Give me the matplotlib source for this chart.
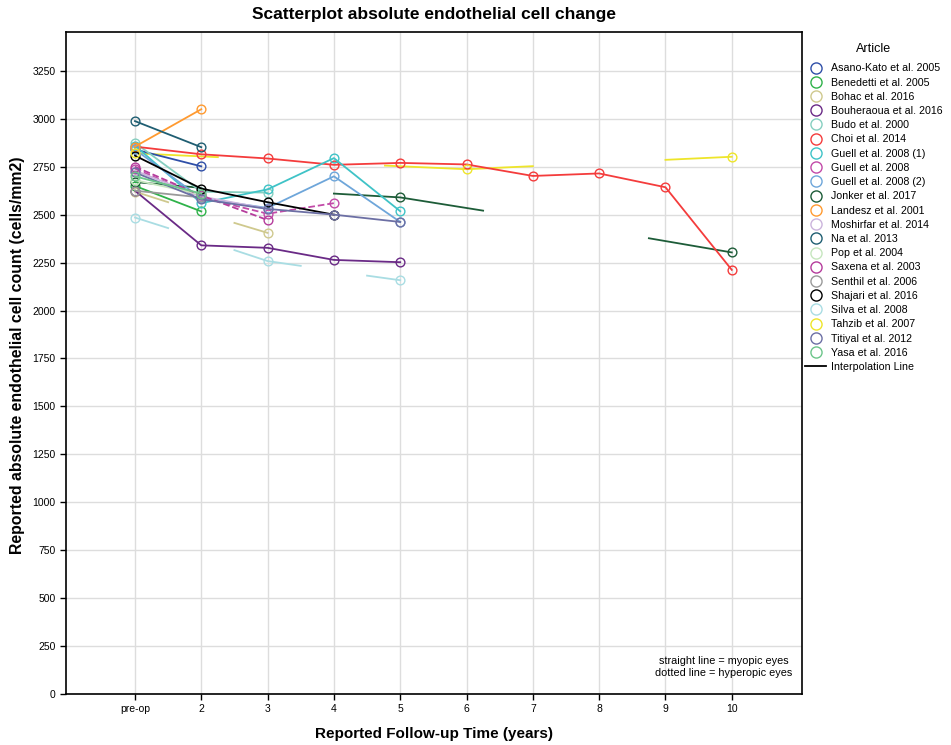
import numpy as np
import matplotlib
matplotlib.use("Agg")
import matplotlib.pyplot as plt
from matplotlib.lines import Line2D

plt.rcParams['font.family'] = ['Liberation Sans', 'DejaVu Sans']

# x categories: pre-op, 2, 3, ... 10 years
x_labels = ["pre-op", "2", "3", "4", "5", "6", "7", "8", "9", "10"]
x_pos = np.arange(1, 11)

articles = ["Asano-Kato et al. 2005", "Benedetti et al. 2005", "Bohac et al. 2016",
            "Bouheraoua et al. 2016", "Budo et al. 2000", "Choi et al. 2014",
            "Guell et al. 2008 (1)", "Guell et al. 2008", "Guell et al. 2008 (2)",
            "Jonker et al. 2017", "Landesz et al. 2001", "Moshirfar et al. 2014",
            "Na et al. 2013", "Pop et al. 2004", "Saxena et al. 2003",
            "Senthil et al. 2006", "Shajari et al. 2016", "Silva et al. 2008",
            "Tahzib et al. 2007", "Titiyal et al. 2012", "Yasa et al. 2016"]
colors = ["#2f4fa8", "#2fb24a", "#cfc98e", "#6a2a86", "#86cfc0", "#f43c3c",
          "#3fc3c7", "#c24aa8", "#6ea6da", "#1d5c38", "#ff9a30", "#cbb4dc",
          "#1f5e72", "#c6e6bf", "#b53c9c", "#9a9a9a", "#000000", "#a9dde3",
          "#eee52a", "#6c6fa4", "#6cc58a"]

N = None
# values per follow-up category (None = not reported)
asano_kato = [2840, 2752]
benedetti = [2650, 2517]
bohac = [2620, N, 2405]
bouheraoua = [2625, 2340, 2327, 2264, 2252]
budo = [2875, 2620, 2615]
choi = [2855, 2815, 2793, 2760, 2770, 2762, 2702, 2715, 2643, 2212]
guell_1 = [2860, 2560, 2632, 2795, 2518]
guell = [2740, 2590, 2505, 2560]
guell_2 = [2840, 2585, 2535, 2700, 2462]
jonker = [2670, N, N, N, 2590, N, N, N, N, 2303]
landesz = [2855, 3050]
moshirfar = [2730, 2595, 2530]
na = [2988, 2852]
pop = [2680, 2605]
saxena = [2750, 2600, 2472]
senthil = [2625, 2590]
shajari = [2808, 2636, 2565, 2500]
silva = [2485, N, 2258, N, 2158]
tahzib = [2820, N, N, N, N, 2737, N, N, N, 2802]
titiyal = [2720, 2580, 2530, 2500, 2462]
yasa = [2700, 2610]

series = [asano_kato, benedetti, bohac, bouheraoua, budo, choi, guell_1, guell,
          guell_2, jonker, landesz, moshirfar, na, pop, saxena, senthil, shajari,
          silva, tahzib, titiyal, yasa]
hyperopic = ["Guell et al. 2008", "Saxena et al. 2003"]
# articles whose points are only joined by partial interpolation pieces
gapped = ["Bohac et al. 2016", "Jonker et al. 2017", "Silva et al. 2008", "Tahzib et al. 2007"]

# interpolation pieces for the gapped articles
bohac_seg_x = [[1, 1.5], [2.5, 3]]
bohac_seg_y = [[2620, 2565], [2457, 2405]]
jonker_seg_x = [[1, 2], [4, 5, 6.25], [8.75, 10]]
jonker_seg_y = [[2670, 2640], [2610, 2590, 2521], [2377, 2303]]
silva_seg_x = [[1, 1.5], [2.5, 3, 3.5], [4.5, 5]]
silva_seg_y = [[2485, 2430], [2315, 2258, 2233], [2182, 2158]]
tahzib_seg_x = [[1, 2.25], [4.77, 6, 7], [9, 10]]
tahzib_seg_y = [[2820, 2800], [2756, 2737, 2753], [2786, 2802]]
segments = {"Bohac et al. 2016": (bohac_seg_x, bohac_seg_y),
            "Jonker et al. 2017": (jonker_seg_x, jonker_seg_y),
            "Silva et al. 2008": (silva_seg_x, silva_seg_y),
            "Tahzib et al. 2007": (tahzib_seg_x, tahzib_seg_y)}

fig = plt.figure(figsize=(9.51, 7.45), dpi=100)
ax = fig.add_axes([0.0694, 0.0685, 0.7740, 0.8886])

handles = []
for name, col, vals in zip(articles, colors, series):
    y = np.array([np.nan if v is None else v for v in vals], dtype=float)
    x = x_pos[:len(y)]
    ls = "--" if name in hyperopic else "-"
    if name in gapped:
        sx, sy = segments[name]
        for a, b in zip(sx, sy):
            ax.plot(a, b, color=col, lw=1.3, zorder=2)
        ax.plot(x, y, ls="none", marker="o", ms=6.3, mfc="none", mec=col, mew=1.0, zorder=3)
    else:
        ax.plot(x, y, color=col, ls=ls, lw=1.3, marker="o", ms=6.3, mfc="none",
                mec=col, mew=1.0, zorder=3)
    handles.append(Line2D([], [], ls="none", marker="o", ms=8, mfc="none", mec=col,
                          mew=1.0, label=name))
handles.append(Line2D([], [], color="black", lw=1.3, label="Interpolation Line"))

ax.set_xlim(-0.04, 11.06)
ax.set_ylim(0, 3453)
ax.set_xticks(x_pos)
ax.set_xticklabels(x_labels)
ax.set_yticks(np.arange(0, 3251, 250))
ax.tick_params(labelsize=7.5, direction="out", length=4, width=1, colors="black")
ax.grid(True, color="#dddddd", lw=1)
ax.set_axisbelow(True)
for s in ax.spines.values():
    s.set_linewidth(1.2)
    s.set_color("black")

ax.set_title("Scatterplot absolute endothelial cell change", fontsize=12.5,
             fontweight="bold", pad=9)
ax.set_xlabel("Reported Follow-up Time (years)", fontsize=11, fontweight="bold", labelpad=9)
ax.set_ylabel("Reported absolute endothelial cell count (cells/mm2)", fontsize=11.4,
              fontweight="bold")
ax.yaxis.set_label_coords(-0.056, 0.511)

ax.text(0.987, 0.024, "straight line = myopic eyes\ndotted line = hyperopic eyes",
        transform=ax.transAxes, ha="right", va="bottom", multialignment="center",
        fontsize=7.8, linespacing=1.2)

leg = fig.legend(handles=handles, loc="upper left", bbox_to_anchor=(805 / 951, 1 - 43 / 745),
                 frameon=False, fontsize=7.7, title="Article", title_fontsize=9,
                 handlelength=2.0, handletextpad=0.4, labelspacing=0.395,
                 borderpad=0, borderaxespad=0)
leg._legend_box.sep = 6

plt.savefig("out.png", dpi=100)
